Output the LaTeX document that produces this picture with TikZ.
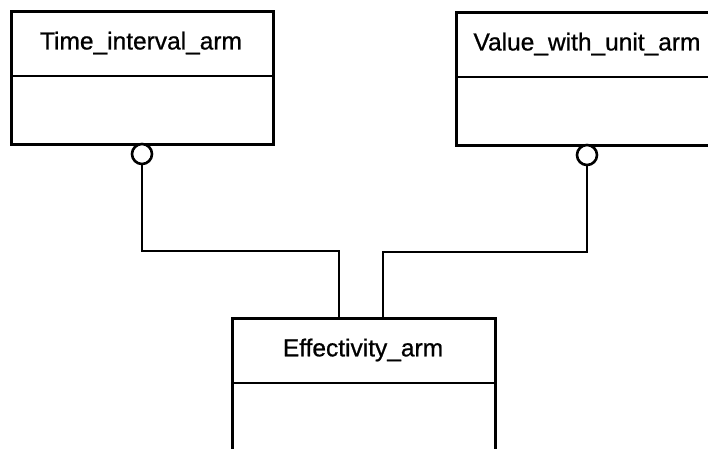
\documentclass[tikz,border=0pt]{standalone}
\usepackage{fontspec}
\setmainfont{Liberation Sans}[FakeBold=0.8]
\begin{document}
\begin{tikzpicture}[x=1pt,y=-1pt,line width=2.6pt,
  classbox/.style={draw, anchor=north west, inner sep=0pt},
  title/.style={font=\fontsize{24.5}{28}\selectfont, inner sep=0pt},
  ring/.style={circle, draw, fill=white, minimum size=20pt, inner sep=0pt}]
\useasboundingbox (0,0) rectangle (708,448);
\clip (0,0) rectangle (708,448);
% boxes
\node[classbox, minimum width=262pt, minimum height=133pt] (tia) at (10,10) {};
\node[classbox, minimum width=270pt, minimum height=133pt] (vwu) at (455,11) {};
\node[classbox, minimum width=263pt, minimum height=200pt] (eff) at (231,317) {};
% dividers
\draw (tia.west |- 0,76) -- (tia.east |- 0,76);
\draw (vwu.west |- 0,77) -- (vwu.east |- 0,77);
\draw (eff.west |- 0,383) -- (eff.east |- 0,383);
% titles
\node[title] (tiat) at (141,43) {Time\_interval\_arm};
\node[title] (vwut) at (587,44) {Value\_with\_unit\_arm};
\node[title] (efft) at (363,350) {Effectivity\_arm};
% connectors
\node[ring] (c1) at (142,154) {};
\node[ring] (c2) at (587,155) {};
\coordinate (j1) at (339,251);
\coordinate (j2) at (383,252);
\draw (c1.south) |- (j1) -- (j1 |- eff.north);
\draw (c2.south) |- (j2) -- (j2 |- eff.north);
\end{tikzpicture}
\end{document}
